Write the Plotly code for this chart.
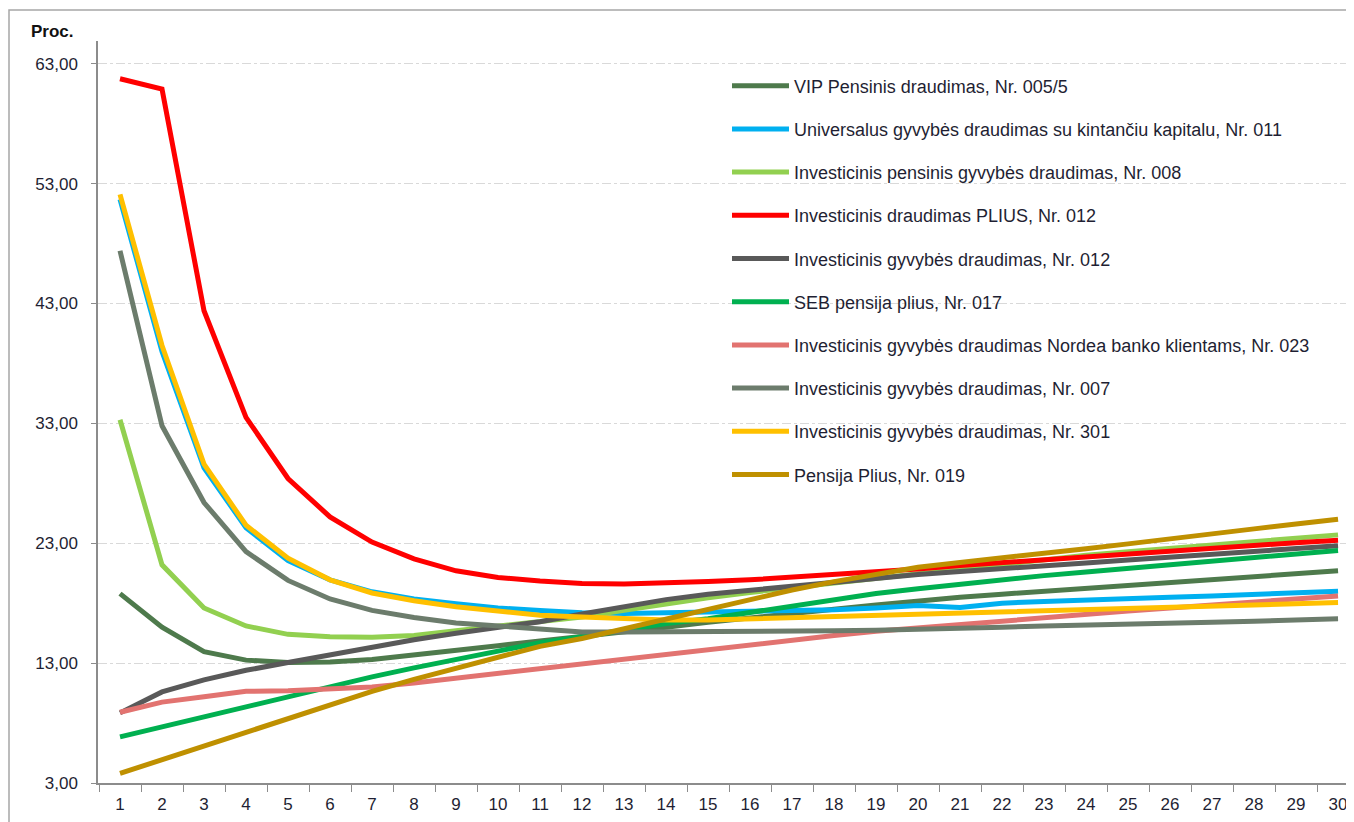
import plotly.graph_objects as go

categories = [str(i) for i in range(1, 31)]

series_names = [
    "VIP Pensinis draudimas, Nr. 005/5",
    "Universalus gyvybės draudimas su kintančiu kapitalu, Nr. 011",
    "Investicinis pensinis gyvybės draudimas, Nr. 008",
    "Investicinis draudimas PLIUS, Nr. 012",
    "Investicinis gyvybės draudimas, Nr. 012",
    "SEB pensija plius, Nr. 017",
    "Investicinis gyvybės draudimas Nordea banko klientams, Nr. 023",
    "Investicinis gyvybės draudimas, Nr. 007",
    "Investicinis gyvybės draudimas, Nr. 301",
    "Pensija Plius, Nr. 019",
]

vip_005 = [18.8, 16.0, 13.95, 13.25, 13.05, 13.1, 13.3, 13.65, 14.05, 14.45,
           14.85, 15.2, 15.6, 16.0, 16.4, 16.8, 17.15, 17.5, 17.85, 18.2,
           18.5, 18.75, 19.0, 19.3, 19.55, 19.8, 20.05, 20.3, 20.5, 20.7]
univ_011 = [51.7, 39.0, 29.3, 24.3, 21.55, 19.95, 18.95, 18.35, 17.95, 17.6,
            17.4, 17.2, 17.15, 17.2, 17.25, 17.3, 17.35, 17.45, 17.6, 17.8,
            17.65, 18.0, 18.15, 18.3, 18.4, 18.5, 18.6, 18.75, 18.85, 19.0]
invpens_008 = [33.3, 21.2, 17.6, 16.1, 15.4, 15.2, 15.15, 15.3, 15.7, 16.05,
               16.4, 16.85, 17.4, 17.95, 18.45, 18.9, 19.3, 19.7, 20.1, 20.5,
               20.9, 21.3, 21.65, 22.0, 22.3, 22.6, 22.9, 23.15, 23.45, 23.7]
plius_012 = [61.75, 60.9, 42.4, 33.5, 28.4, 25.2, 23.1, 21.7, 20.7, 20.15,
             19.85, 19.65, 19.6, 19.65, 19.8, 19.95, 20.15, 20.4, 20.6, 20.85,
             21.15, 21.4, 21.65, 21.9, 22.15, 22.4, 22.6, 22.8, 23.05, 23.25]
invgyv_012 = [8.85, 10.6, 11.6, 12.4, 13.05, 13.7, 14.35, 14.95, 15.5, 16.0,
              16.45, 17.1, 17.7, 18.3, 18.75, 19.1, 19.45, 19.8, 20.1, 20.4,
              20.65, 20.85, 21.1, 21.35, 21.6, 21.85, 22.1, 22.35, 22.6, 22.8]
seb_017 = [6.85, 7.7, 8.55, 9.4, 10.2, 11.05, 11.85, 12.6, 13.3, 14.0,
           14.7, 15.2, 15.8, 16.3, 16.7, 17.25, 17.8, 18.35, 18.8, 19.2,
           19.6, 19.95, 20.3, 20.6, 20.9, 21.2, 21.5, 21.8, 22.1, 22.4]
nordea_023 = [8.9, 9.75, 10.2, 10.65, 10.7, 10.8, 11.0, 11.35, 11.75, 12.15,
              12.55, 12.95, 13.35, 13.75, 14.2, 14.6, 14.95, 15.3, 15.65, 15.95,
              16.2, 16.5, 16.8, 17.1, 17.35, 17.6, 17.85, 18.1, 18.35, 18.6]
invgyv_007 = [47.4, 32.8, 26.4, 22.3, 19.9, 18.35, 17.4, 16.8, 16.35, 16.1,
              15.85, 15.6, 15.6, 15.6, 15.6, 15.6, 15.65, 15.7, 15.75, 15.8,
              15.9, 16.0, 16.1, 16.15, 16.25, 16.3, 16.4, 16.5, 16.6, 16.7]
invgyv_301 = [52.1, 39.5, 29.6, 24.5, 21.75, 19.95, 18.85, 18.2, 17.7, 17.35,
              17.0, 16.85, 16.7, 16.6, 16.6, 16.7, 16.78, 16.9, 16.97, 17.05,
              17.1, 17.25, 17.35, 17.45, 17.55, 17.65, 17.75, 17.85, 17.95, 18.05]
pensija_019 = [3.8, 4.95, 6.1, 7.3, 8.45, 9.6, 10.65, 11.65, 12.6, 13.55,
               14.4, 15.05, 15.85, 16.7, 17.5, 18.35, 19.1, 19.8, 20.45, 21.0,
               21.4, 21.75, 22.15, 22.55, 22.95, 23.4, 23.8, 24.2, 24.6, 25.0]

series_values = [vip_005, univ_011, invpens_008, plius_012, invgyv_012,
                 seb_017, nordea_023, invgyv_007, invgyv_301, pensija_019]
series_colors = ["#4E7A4C", "#00B0F0", "#92D050", "#FF0000", "#595959",
                 "#00B050", "#E27370", "#6C7C6C", "#FFC000", "#BF9000"]

y_ticks = [3, 13, 23, 33, 43, 53, 63]

fig = go.Figure()
for i, (name, vals, col) in enumerate(zip(series_names, series_values, series_colors)):
    fig.add_trace(go.Scatter(
        x=categories, y=vals, name=name, mode="lines",
        line=dict(color=col, width=5),
        legendgroup=f"g{i}",
    ))

# page body has an 8px margin, so figure is placed at (8, 8)
OFF = 8
W, H = 1354 - OFF, 822 - OFF
L, T, B = 98 - OFF, 41 - OFF, 39
pw, ph = W - L, H - T - B


def px_x(page_x):
    return (page_x - OFF - L) / pw


def px_y(page_y):
    return (H - B - (page_y - OFF)) / ph


fig.update_layout(
    width=W, height=H,
    margin=dict(l=L, r=0, t=T, b=B, pad=0),
    paper_bgcolor="white", plot_bgcolor="white",
    separators=",.",
    font=dict(family="Liberation Sans, Arial, sans-serif", color="#1F1F33"),
    showlegend=True,
    legend=dict(
        x=px_x(727), y=px_y(67.5), xanchor="left", yanchor="top",
        bgcolor="rgba(0,0,0,0)",
        font=dict(family="Liberation Sans, Arial, sans-serif",
                  size=18, color="#1F1F33"),
        itemwidth=57, tracegroupgap=16.8,
        traceorder="grouped",
    ),
    xaxis=dict(
        type="category",
        range=[-0.524, 29.38],
        showgrid=False,
        showline=True, linecolor="#8C8C8C", linewidth=1.5,
        ticks="outside", tickson="boundaries", ticklen=7, tickcolor="#8C8C8C",
        ticklabelstandoff=5,
        tickfont=dict(size=17, color="#1F1F33"),
        zeroline=False, fixedrange=True,
    ),
    yaxis=dict(
        range=[3, 64.9],
        tickvals=y_ticks, tickformat=".2f",
        showgrid=True, gridcolor="#D9D9D9", gridwidth=1, griddash="dashdot",
        showline=True, linecolor="#8C8C8C", linewidth=1.5,
        ticks="outside", ticklen=5, tickcolor="#8C8C8C",
        ticklabelstandoff=10,
        tickfont=dict(size=17, color="#1F1F33"),
        zeroline=False, fixedrange=True,
    ),
    annotations=[dict(
        text="<b>Proc.</b>", xref="paper", yref="paper",
        x=px_x(29), y=px_y(32), xanchor="left", yanchor="middle",
        showarrow=False, font=dict(size=17, color="#111111"),
    )],
    shapes=[dict(
        type="rect", xref="paper", yref="paper",
        x0=px_x(9), x1=px_x(1380),
        y0=px_y(860), y1=px_y(10),
        line=dict(color="#A6A6A6", width=1.5), fillcolor="rgba(0,0,0,0)",
        layer="below",
    )],
)

fig.write_html("out.html")
